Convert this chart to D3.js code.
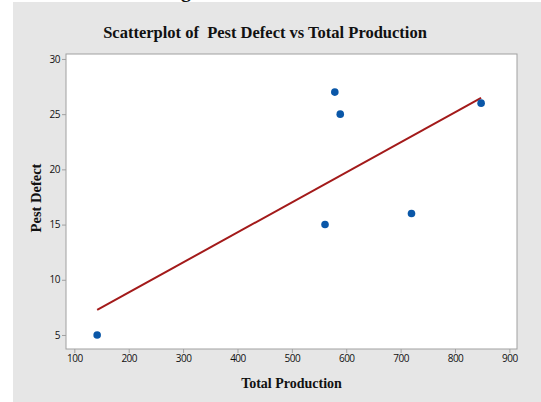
<html>
<head>
    <title>Scatterplot of Pest Defect vs Total Production</title>
    <style type="text/css">
        body{ margin: 0; background-color: #fff; }
        .axis line, .axis path{ stroke: #a0a0a0; }
        .axis text{ fill: #111; font-family: "Open Sans", sans-serif; font-size: 10px; letter-spacing: -0.5px; }
        .label{ font-family: "Liberation Serif", "Times New Roman", serif; font-weight: bold; fill: #111; white-space: pre; }
    </style>
    <script type="text/javascript" src="https://cdn.jsdelivr.net/npm/d3@7/dist/d3.min.js"></script>
</head>
<body>
    <div id="chart"></div>
    <script type="text/javascript">
        var width = 541, height = 402;
        var plot = {left: 66, top: 54, right: 517, bottom: 349};

        // values
        var production = [142, 579, 589, 561, 720, 848];
        var pestDefect = [5, 27, 25, 15, 16, 26];
        var xTicks = [100, 200, 300, 400, 500, 600, 700, 800, 900];
        var yTicks = [5, 10, 15, 20, 25, 30];

        var svg = d3.select('#chart')
            .append('svg')
            .attr('width', width)
            .attr('height', height);

        // leftover descender from the page text above the figure
        svg.append('text')
            .attr('x', 181)
            .attr('y', -3)
            .attr('class', 'label')
            .style('font-size', '20px')
            .text('g');

        svg.append('rect')
            .attr('x', 13).attr('y', 2)
            .attr('width', width - 13).attr('height', height - 2)
            .attr('fill', '#e6e6e6');

        var xScale = d3.scaleLinear()
            .domain([84.7, 914])
            .range([plot.left, plot.right]);

        var yScale = d3.scaleLinear()
            .domain([3.73, 30.45])
            .range([plot.bottom, plot.top]);

        svg.append('rect')
            .attr('x', plot.left).attr('y', plot.top)
            .attr('width', plot.right - plot.left)
            .attr('height', plot.bottom - plot.top)
            .attr('fill', '#fff')
            .attr('stroke', '#a0a0a0')
            .attr('stroke-width', 1);

        var xAxis = d3.axisBottom(xScale).tickValues(xTicks).tickSize(4).tickPadding(2).tickSizeOuter(0);
        var yAxis = d3.axisLeft(yScale).tickValues(yTicks).tickSize(4).tickPadding(2).tickSizeOuter(0);

        svg.append('g')
            .attr('class', 'axis')
            .attr('transform', 'translate(0,' + plot.bottom + ')')
            .call(xAxis)
            .select('.domain').remove();

        svg.append('g')
            .attr('class', 'axis')
            .attr('transform', 'translate(' + plot.left + ',0)')
            .call(yAxis)
            .select('.domain').remove();

        // least squares fit
        var n = production.length;
        var mx = d3.mean(production), my = d3.mean(pestDefect);
        var sxy = 0, sxx = 0;
        for (var i = 0; i < n; i++) {
            sxy += (production[i] - mx) * (pestDefect[i] - my);
            sxx += (production[i] - mx) * (production[i] - mx);
        }
        var slope = sxy / sxx, intercept = my - slope * mx;
        var xExt = d3.extent(production);

        svg.append('line')
            .attr('x1', xScale(xExt[0])).attr('y1', yScale(intercept + slope * xExt[0]))
            .attr('x2', xScale(xExt[1])).attr('y2', yScale(intercept + slope * xExt[1]))
            .attr('stroke', '#a31a1a')
            .attr('stroke-width', 2);

        svg.selectAll('.dot')
            .data(production)
            .enter()
            .append('circle')
            .attr('class', 'dot')
            .attr('cx', function(d){ return xScale(d); })
            .attr('cy', function(d, i){ return yScale(pestDefect[i]); })
            .attr('r', 3.8)
            .attr('fill', '#0a57a8');

        svg.append('text')
            .attr('class', 'label')
            .attr('x', 265).attr('y', 38)
            .attr('text-anchor', 'middle')
            .style('font-size', '16.5px')
            .text('Scatterplot of  Pest Defect vs Total Production');

        svg.append('text')
            .attr('class', 'label')
            .attr('x', 291.5).attr('y', 388)
            .attr('text-anchor', 'middle')
            .style('font-size', '14px')
            .text('Total Production');

        svg.append('text')
            .attr('class', 'label')
            .attr('transform', 'translate(41,198) rotate(-90)')
            .attr('text-anchor', 'middle')
            .style('font-size', '14.5px')
            .text('Pest Defect');
    </script>
</body>
</html>
